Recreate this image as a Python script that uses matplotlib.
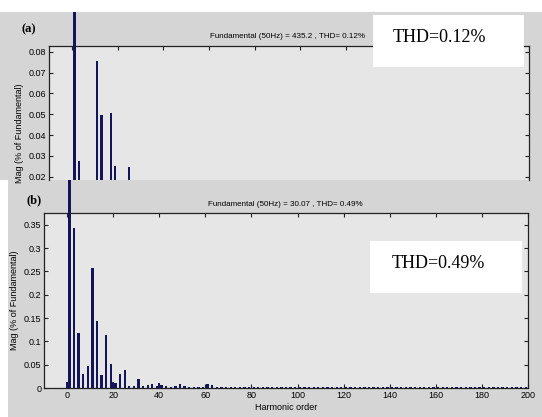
import numpy as np
import matplotlib
matplotlib.use("Agg")
from matplotlib import pyplot as plt
from matplotlib.patches import Rectangle

# (a) harmonic spectrum, only bars inside the visible window
harm_a = [1, 3, 11, 13, 17, 19, 25]
mag_a = [100.0, 0.0275, 0.0755, 0.0496, 0.0507, 0.0253, 0.0248]
title_a = "Fundamental (50Hz) = 435.2 , THD= 0.12%"
thd_a = "THD=0.12%"

# (b) harmonic spectrum
harm_b = [0, 1, 3, 5, 7, 9, 11, 13, 15, 17, 19, 20, 21, 23, 25, 27, 29, 31, 33, 35,
          37, 39, 40, 41, 43, 45, 47, 49, 51, 53, 55, 57, 59, 61, 63]
mag_b = [0.013, 100.0, 0.343, 0.118, 0.029, 0.047, 0.258, 0.144, 0.027, 0.113, 0.051,
         0.013, 0.011, 0.029, 0.038, 0.005, 0.005, 0.019, 0.004, 0.007,
         0.009, 0.005, 0.010, 0.006, 0.004, 0.002, 0.004, 0.008, 0.004, 0.003,
         0.003, 0.003, 0.003, 0.008, 0.007]
harm_tail = list(range(65, 200, 2))
mag_tail = [0.003, 0.002, 0.002, 0.002, 0.002, 0.002, 0.002, 0.002, 0.002, 0.002,
            0.002, 0.002, 0.002, 0.002, 0.002, 0.002, 0.003, 0.002, 0.002, 0.002,
            0.002, 0.002, 0.002, 0.002, 0.002, 0.002, 0.002, 0.002, 0.002, 0.002,
            0.002, 0.002, 0.002, 0.002, 0.002, 0.002, 0.002, 0.002, 0.002, 0.002,
            0.002, 0.002, 0.002, 0.002, 0.002, 0.002, 0.002, 0.002, 0.002, 0.002,
            0.002, 0.002, 0.002, 0.002, 0.002, 0.002, 0.002, 0.002, 0.002, 0.002,
            0.002, 0.002, 0.002, 0.002, 0.002, 0.002, 0.002, 0.002]
title_b = "Fundamental (50Hz) = 30.07 , THD= 0.49%"
thd_b = "THD=0.49%"

W, H = 542, 417
PANEL = "#d5d5d5"
FACE = "#e6e6e6"
BAR = "#14145a"
plt.rcParams['font.family'] = ['Liberation Sans', 'DejaVu Sans']

fig = plt.figure(figsize=(W / 100, H / 100), dpi=100)
fig.patch.set_facecolor("white")

def fx(px):
    return px / W

def fy(py):
    return 1 - py / H

# grey panels behind each subplot
panel_a = Rectangle((0, fy(180)), 1, fy(12) - fy(180), transform=fig.transFigure,
                    facecolor=PANEL, edgecolor="none", zorder=-10)
panel_b = Rectangle((fx(8), 0), 1 - fx(8), fy(180), transform=fig.transFigure,
                    facecolor=PANEL, edgecolor="none", zorder=-10)
fig.patches.extend([panel_a, panel_b])

ax_a = fig.add_axes([fx(49), fy(180), fx(529) - fx(49), fy(45.7) - fy(180)])
ax_b = fig.add_axes([fx(44), fy(388), fx(528) - fx(44), fy(213) - fy(388)])

for ax in (ax_a, ax_b):
    ax.set_facecolor(FACE)
    ax.set_xlim(-10, 200)
    ax.set_xticks(np.arange(0, 201, 20))
    ax.tick_params(direction="in", length=3, width=0.8, labelsize=6.5, pad=2,
                   top=True, right=True, color="#222222")
    for s in ax.spines.values():
        s.set_linewidth(0.9)
        s.set_color("#222222")

# (a)
bars_a = ax_a.bar(harm_a, mag_a, width=1.0, color=BAR, zorder=3)
bars_a[0].set_clip_path(panel_a)
bars_a[0].set_width(1.3)
ax_a.set_ylim(0.0184, 0.0829)
ax_a.set_yticks([0.02, 0.03, 0.04, 0.05, 0.06, 0.07, 0.08])
ax_a.set_yticklabels(["0.02", "0.03", "0.04", "0.05", "0.06", "0.07", "0.08"])
ax_a.spines["bottom"].set_visible(False)
ax_a.tick_params(axis="x", bottom=False, labelbottom=False)
ax_a.set_ylabel("Mag (% of Fundamental)", fontsize=6.5)
ax_a.yaxis.set_label_coords(-0.052, 0.35)

# (b)
bars_b = ax_b.bar(harm_b + harm_tail, mag_b + mag_tail, width=1.0, color=BAR, zorder=3)
bars_b[1].set_clip_path(panel_b)
bars_b[1].set_width(1.3)
ax_b.set_ylim(0, 0.375)
ax_b.set_yticks([0, 0.05, 0.1, 0.15, 0.2, 0.25, 0.3, 0.35])
ax_b.set_yticklabels(["0", "0.05", "0.1", "0.15", "0.2", "0.25", "0.3", "0.35"])
ax_b.set_ylabel("Mag (% of Fundamental)", fontsize=6.5)
ax_b.yaxis.set_label_coords(-0.052, 0.5)
ax_b.set_xlabel("Harmonic order", fontsize=6.5, labelpad=2)

# titles, panel letters and THD boxes
fig.text(fx(288), fy(36), title_a, fontsize=5.8, ha="center", va="center")
fig.text(fx(285), fy(204), title_b, fontsize=5.8, ha="center", va="center")
fig.text(fx(29), fy(29), "(a)", fontsize=9, fontweight="bold", family="Liberation Serif",
         ha="center", va="center")
fig.text(fx(34), fy(200), "(b)", fontsize=9, fontweight="bold", family="Liberation Serif",
         ha="center", va="center")

fig.patches.append(Rectangle((fx(373), fy(67)), fx(524) - fx(373), fy(15) - fy(67),
                             transform=fig.transFigure, facecolor="white",
                             edgecolor="none", zorder=5))
fig.patches.append(Rectangle((fx(370), fy(293)), fx(522) - fx(370), fy(241) - fy(293),
                             transform=fig.transFigure, facecolor="white",
                             edgecolor="none", zorder=5))
fig.text(fx(393), fy(37), thd_a, fontsize=13, family="Liberation Serif",
         ha="left", va="center", zorder=6)
fig.text(fx(392), fy(263), thd_b, fontsize=13, family="Liberation Serif",
         ha="left", va="center", zorder=6)

fig.savefig("out.png", dpi=100, facecolor=fig.get_facecolor())
